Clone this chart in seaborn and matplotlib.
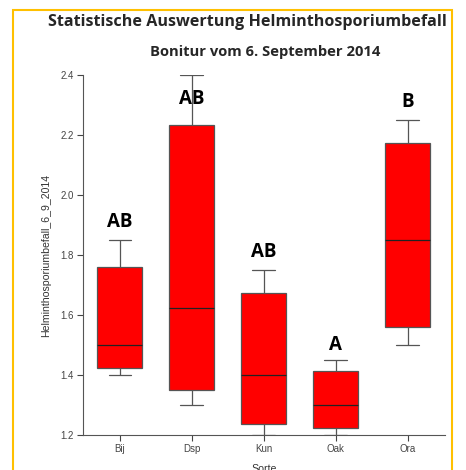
import pandas as pd
import matplotlib.pyplot as plt
import matplotlib.patches as mpatches
import seaborn as sns

# five-number summaries per Sorte (min, q1, median, q3, max)
sorten = ['Bij', 'Dsp', 'Kun', 'Oak', 'Ora']
bij = [1.40, 1.425, 1.50, 1.76, 1.85]
dsp = [1.30, 1.35, 1.625, 2.235, 2.40]
kun = [1.20, 1.237, 1.40, 1.675, 1.75]
oak = [1.20, 1.222, 1.30, 1.415, 1.45]
ora = [1.50, 1.56, 1.85, 2.175, 2.25]
letters = ['AB', 'AB', 'AB', 'A', 'B']
letter_y = [1.91, 2.32, 1.81, 1.50, 2.31]

values = [bij, dsp, kun, oak, ora]
df = pd.DataFrame({
    'Sorte': [s for s, v in zip(sorten, values) for _ in v],
    'wert': [x for v in values for x in v],
})

sns.set_style('ticks')
plt.rcParams['font.family'] = ['Liberation Sans', 'DejaVu Sans']

fig = plt.figure(figsize=(4.66, 4.70), dpi=100)
ax = fig.add_axes([0.178, 0.0745, 0.777, 0.7655])

sns.boxplot(data=df, x='Sorte', y='wert', order=sorten, color='#ff0000',
            saturation=1, width=0.62, whis=(0, 100), linewidth=0.9,
            linecolor='#555555', medianprops={'color': '#222222'}, ax=ax)

for i, (lab, yy) in enumerate(zip(letters, letter_y)):
    ax.text(i, yy, lab, ha='center', va='center', fontsize=13.5,
            fontweight='bold', family='Open Sans', color='black')

ax.set_ylim(1.2, 2.4)
ax.set_xlim(-0.51, 4.52)
ax.set_yticks([1.2, 1.4, 1.6, 1.8, 2.0, 2.2, 2.4])
ax.set_yticklabels(['1.2', '1.4', '1.6', '1.8', '2.0', '2.2', '2.4'])
ax.tick_params(labelsize=7, colors='#444444', length=4, width=0.8, pad=2.5)
ax.set_ylabel('Helminthosporiumbefall_6_9_2014', fontsize=7.6, color='#333333', labelpad=7)
ax.set_xlabel('Sorte', fontsize=7.6, color='#333333', labelpad=7)
for side in ['top', 'right']:
    ax.spines[side].set_visible(False)
for side in ['left', 'bottom']:
    ax.spines[side].set_color('#555555')
    ax.spines[side].set_linewidth(0.8)

fig.text(0.531, 0.953, 'Statistische Auswertung Helminthosporiumbefall',
         ha='center', va='center', fontsize=11.6, fontweight='bold', family='Open Sans')
fig.text(0.57, 0.889, 'Bonitur vom 6. September 2014',
         ha='center', va='center', fontsize=10.6, fontweight='bold', family='Open Sans')

# yellow frame around the slide
frame = mpatches.Rectangle((0.028, -0.1), 0.942, 1.0787, transform=fig.transFigure,
                           fill=False, edgecolor='#ffc000', linewidth=1.5)
fig.patches.append(frame)

fig.savefig('out.png', dpi=100)
